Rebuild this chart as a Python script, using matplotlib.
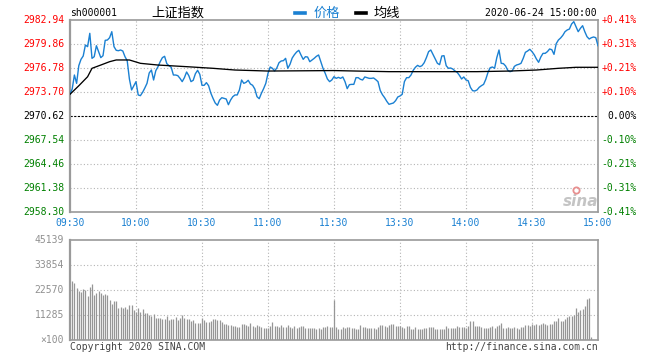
import matplotlib
matplotlib.use("Agg")
import matplotlib.pyplot as plt
from matplotlib.lines import Line2D

# ---------------- data ----------------
prev_close = 2970.62

# 09:30 .. 11:30 (minute index 0..120)
price_am = [
    2973.44, 2974.09, 2975.88, 2974.81, 2977.08, 2977.89, 2978.32, 2979.73, 2979.52, 2981.23,
    2978.02, 2978.23, 2979.64, 2978.88, 2978.11, 2978.36, 2980.33, 2980.37, 2980.67, 2981.44,
    2979.52, 2979.05, 2979.00, 2979.09, 2978.96, 2978.23, 2977.72, 2975.37, 2973.96, 2974.51,
    2975.03, 2973.32, 2973.23, 2973.66, 2974.21, 2974.81, 2976.14, 2976.52, 2975.24, 2976.44,
    2976.95, 2977.59, 2978.11, 2978.28, 2977.34, 2977.08, 2976.87, 2975.88, 2975.88, 2975.80,
    2975.45, 2975.03, 2975.54, 2976.27, 2975.80, 2975.03, 2975.20, 2976.05, 2976.48, 2975.97,
    2974.55, 2974.56, 2974.90, 2974.51, 2973.57, 2972.89, 2972.29, 2971.99, 2972.67, 2972.97,
    2972.89, 2972.80, 2972.07, 2972.67, 2973.10, 2973.32, 2973.32, 2973.96, 2975.24, 2974.81,
    2974.94, 2975.20, 2974.73, 2974.56, 2974.09, 2973.10, 2972.84, 2973.53, 2974.13, 2974.81,
    2976.10, 2976.91, 2976.74, 2976.40, 2976.78, 2977.46, 2977.68, 2977.72, 2978.02, 2976.74,
    2977.25, 2978.06, 2978.49, 2978.83, 2979.05, 2978.45, 2977.89, 2978.23, 2978.19, 2977.59,
    2977.81, 2978.02, 2978.28, 2978.45, 2977.59, 2976.74, 2976.10, 2975.37, 2975.03, 2975.24,
    2975.67,
]
# 13:01 .. 15:00 (minute index 121..240)
price_pm = [
    2975.45, 2975.58, 2975.45, 2975.63, 2975.03, 2974.13, 2974.64, 2974.68, 2974.68, 2975.54,
    2975.54, 2975.33, 2975.24, 2975.63, 2975.54, 2975.45, 2975.45, 2975.50, 2975.28, 2975.03,
    2973.91, 2973.36, 2972.97, 2972.50, 2972.12, 2972.20, 2972.29, 2972.59, 2973.06, 2973.19,
    2973.40, 2975.03, 2975.54, 2975.54, 2975.88, 2976.48, 2976.87, 2977.12, 2976.95, 2977.08,
    2977.46, 2978.11, 2978.88, 2979.09, 2978.53, 2977.98, 2977.38, 2977.21, 2978.32, 2978.36,
    2977.08, 2976.74, 2976.78, 2976.65, 2976.40, 2976.22, 2975.84, 2975.37, 2975.63, 2975.24,
    2975.15, 2974.30, 2973.87, 2973.83, 2973.96, 2974.30, 2974.51, 2974.68, 2975.33, 2976.22,
    2976.82, 2976.91, 2976.74, 2978.11, 2979.09, 2977.38, 2977.34, 2977.04, 2976.48, 2976.31,
    2976.40, 2976.99, 2977.17, 2977.25, 2977.38, 2978.02, 2978.79, 2978.96, 2979.18, 2978.88,
    2978.49, 2977.94, 2977.51, 2978.19, 2978.66, 2978.66, 2978.88, 2979.22, 2979.13, 2978.53,
    2979.90, 2980.37, 2980.63, 2980.97, 2981.44, 2981.66, 2981.78, 2982.43, 2982.73, 2982.08,
    2981.44, 2981.87, 2982.21, 2981.44, 2980.80, 2980.50, 2980.67, 2980.76, 2980.67, 2979.64,
]

avg_minutes = [0, 4, 8, 10, 14, 18, 21, 27, 32, 40, 53, 65, 75, 90, 120, 130, 145,
               170, 185, 200, 212, 222, 230, 240]
avg_values = [2973.41, 2974.50, 2975.66, 2976.74, 2977.16, 2977.59, 2977.81, 2977.81,
              2977.38, 2977.16, 2976.95, 2976.74, 2976.52, 2976.39, 2976.45, 2976.39,
              2976.31, 2976.31, 2976.31, 2976.39, 2976.52, 2976.74, 2976.87, 2976.87]

# volume (x100 shares), minute index 1..240
volume = [
    26780, 25579, 23623, 22268, 21517, 22871, 22570, 19861, 24074, 25278,
    20313, 21065, 22118, 21366, 20313, 20764, 20313, 18056, 16250, 17604,
    17604, 14294, 14896, 14595, 14896, 13843, 15799, 15799, 13542, 12789,
    14294, 12488, 13993, 12338, 12338, 11285, 10984, 11736, 10081, 10081,
    10081, 9479, 9479, 10833, 9028, 9479, 9479, 10382, 9028, 9931,
    11285, 9780, 9630, 9630, 8726, 9178, 7824, 7824, 7824, 9780,
    9028, 8275, 8275, 8726, 9479, 9479, 9028, 9028, 8275, 7222,
    7222, 6771, 6771, 6319, 6470, 6018, 6018, 7222, 7222, 6771,
    6470, 7674, 6470, 6018, 6771, 6319, 5868, 5567, 5567, 5400,
    6319, 8275, 6319, 6319, 6018, 6771, 6018, 6018, 6771, 6018,
    5266, 6319, 5567, 6018, 6319, 6319, 5266, 5266, 5567, 5567,
    5567, 5116, 5567, 5116, 5868, 5868, 6319, 5868, 5868, 18056,
    5717, 4965, 4965, 5717, 5567, 5868, 5868, 5567, 5266, 4965,
    4965, 6771, 6018, 5868, 5567, 5567, 5567, 5567, 4965, 5868,
    6771, 6771, 6319, 6018, 6621, 7072, 7222, 6319, 6319, 6319,
    6018, 5567, 6319, 6319, 4965, 4965, 5717, 4965, 4965, 4965,
    5266, 5417, 5717, 5717, 5717, 4965, 4965, 4965, 4965, 4965,
    6319, 5567, 5567, 5567, 5266, 6319, 6018, 6018, 6018, 5567,
    6319, 8426, 8576, 6319, 6319, 6319, 5717, 5567, 5567, 5567,
    6018, 6319, 5567, 6319, 6771, 7674, 5266, 5567, 5717, 5567,
    5567, 6018, 5266, 4965, 5717, 6018, 6621, 6771, 6319, 7072,
    6771, 7222, 6771, 7222, 7523, 7222, 6771, 7222, 7222, 8426,
    8426, 9780, 8576, 8576, 9329, 10232, 10833, 10984, 11285, 14294,
    12789, 13542, 13993, 15347, 18650, 19100, 1204, 0, 0, 0,
]

price_ticks = [2982.94, 2979.86, 2976.78, 2973.70, 2970.62, 2967.54, 2964.46, 2961.38, 2958.30]
price_labels = ["2982.94", "2979.86", "2976.78", "2973.70", "2970.62",
                "2967.54", "2964.46", "2961.38", "2958.30"]
pct_labels = ["+0.41%", "+0.31%", "+0.21%", "+0.10%", "0.00%",
              "-0.10%", "-0.21%", "-0.31%", "-0.41%"]
time_minutes = [0, 30, 60, 90, 120, 150, 180, 210, 240]
time_labels = ["09:30", "10:00", "10:30", "11:00", "11:30", "13:30", "14:00", "14:30", "15:00"]
vol_ticks = [45139, 33854, 22570, 11285]
vol_labels = ["45139", "33854", "22570", "11285"]

# ---------------- style ----------------
W, H = 660, 360
BLUE = "#1a80d2"
GRID = "#b4b4b4"
SPINE = "#9a9a9a"
MONO = "DejaVu Sans Mono"
FS = 7

fig = plt.figure(figsize=(W / 100, H / 100), dpi=100)
fig.patch.set_facecolor("white")


def fx(px):
    return px / W


def fy(py):
    return 1 - py / H


# main price axes
ax = fig.add_axes([fx(70), fy(212), 528 / W, 192 / H])
ax.set_xlim(0, 240)
ax.set_ylim(price_ticks[-1], price_ticks[0])
ax.set_xticks([])
ax.set_yticks([])
for s in ax.spines.values():
    s.set_color(SPINE)
    s.set_linewidth(1.2)
ax.spines["left"].set_linewidth(1.6)

for t in price_ticks[1:-1]:
    if abs(t - prev_close) < 1e-6:
        ax.axhline(t, color="black", lw=0.8, ls=(0, (2, 1.3)), zorder=1)
    else:
        ax.axhline(t, color=GRID, lw=0.8, ls=(0, (1, 2)), zorder=1)
for m in time_minutes[1:-1]:
    ax.axvline(m, color=GRID, lw=0.8, ls=(0, (1, 2)), zorder=1)

minutes_am = list(range(0, len(price_am)))
minutes_pm = list(range(121, 121 + len(price_pm)))
ax.plot(minutes_am + minutes_pm, price_am + price_pm, color=BLUE, lw=1.0, zorder=3)
ax.plot(avg_minutes, avg_values, color="black", lw=0.95, zorder=4)

ytr = ax.get_yaxis_transform()
for t, lab, pl in zip(price_ticks, price_labels, pct_labels):
    if t > prev_close + 1e-6:
        c = "#ff0000"
    elif t < prev_close - 1e-6:
        c = "#008000"
    else:
        c = "black"
    ax.text(-6 / 528, t, lab, transform=ytr, ha="right", va="center",
            fontsize=FS, family=MONO, color=c)
    ax.text(1 + 39 / 528, t, pl, transform=ytr, ha="right", va="center",
            fontsize=FS, family=MONO, color=c)

xtr = ax.get_xaxis_transform()
for m, lab in zip(time_minutes, time_labels):
    ax.text(m, -11.5 / 192, lab, transform=xtr, ha="center", va="center",
            fontsize=FS, family=MONO, color=BLUE)

# sina watermark
ax.text(1 - 17 / 528, 11 / 192, "sina", transform=ax.transAxes, ha="center", va="center",
        fontsize=11, fontstyle="italic", fontweight="bold", color="#c4c4c4", zorder=2)
ax.plot([1 - 22 / 528], [22 / 192], transform=ax.transAxes, marker="o", ms=4.5,
        mfc="none", mec="#e89090", mew=1.3, zorder=2)

# volume axes
vx = fig.add_axes([fx(70), fy(340), 528 / W, 100 / H])
vx.set_xlim(0, 240)
vx.set_ylim(0, vol_ticks[0])
vx.set_xticks([])
vx.set_yticks([])
for s in vx.spines.values():
    s.set_color(SPINE)
    s.set_linewidth(1.2)
vx.spines["left"].set_linewidth(1.6)
for t in vol_ticks[1:]:
    vx.axhline(t, color=GRID, lw=0.8, ls=(0, (1, 2)), zorder=1)
for m in time_minutes[1:-1]:
    vx.axvline(m, color=GRID, lw=0.8, ls=(0, (1, 2)), zorder=1)

vol_minutes = list(range(1, 1 + len(volume)))
bars_m = [m for m, v in zip(vol_minutes, volume) if v > 0]
bars_v = [v for v in volume if v > 0]
vx.vlines(bars_m, 0, bars_v, colors="#969696", lw=0.9, zorder=2)

vtr = vx.get_yaxis_transform()
for t, lab in zip(vol_ticks, vol_labels):
    vx.text(-6 / 528, t, lab, transform=vtr, ha="right", va="center",
            fontsize=FS, family=MONO, color="#909090")
vx.text(-6 / 528, 0, "×100", transform=vtr, ha="right", va="center",
        fontsize=FS, family=MONO, color="#909090")

# header
fig.text(fx(70), fy(13.5), "sh000001", ha="left", va="center", fontsize=FS, family=MONO,
         color="black")
fig.text(fx(151), fy(13), "上证指数", ha="left", va="center", fontsize=9.5,
         family=["Noto Sans CJK SC", "DejaVu Sans"], color="black")
fig.add_artist(Line2D([fx(295), fx(305)], [fy(12.5), fy(12.5)], color=BLUE, lw=2.6,
                      transform=fig.transFigure))
fig.text(fx(314), fy(13), "价格", ha="left", va="center", fontsize=9.5,
         family=["Noto Sans CJK SC", "DejaVu Sans"], color=BLUE)
fig.add_artist(Line2D([fx(356), fx(366)], [fy(12.5), fy(12.5)], color="black", lw=2.6,
                      transform=fig.transFigure))
fig.text(fx(374), fy(13), "均线", ha="left", va="center", fontsize=9.5,
         family=["Noto Sans CJK SC", "DejaVu Sans"], color="black")
fig.text(fx(597), fy(13.5), "2020-06-24 15:00:00", ha="right", va="center",
         fontsize=FS, family=MONO, color="black")

# footer
fig.text(fx(70), fy(347), "Copyright 2020 SINA.COM", ha="left", va="center",
         fontsize=FS, family=MONO, color="#444444")
fig.text(fx(598), fy(347), "http://finance.sina.com.cn", ha="right", va="center",
         fontsize=FS, family=MONO, color="#444444")

fig.savefig("out.png", dpi=100)
